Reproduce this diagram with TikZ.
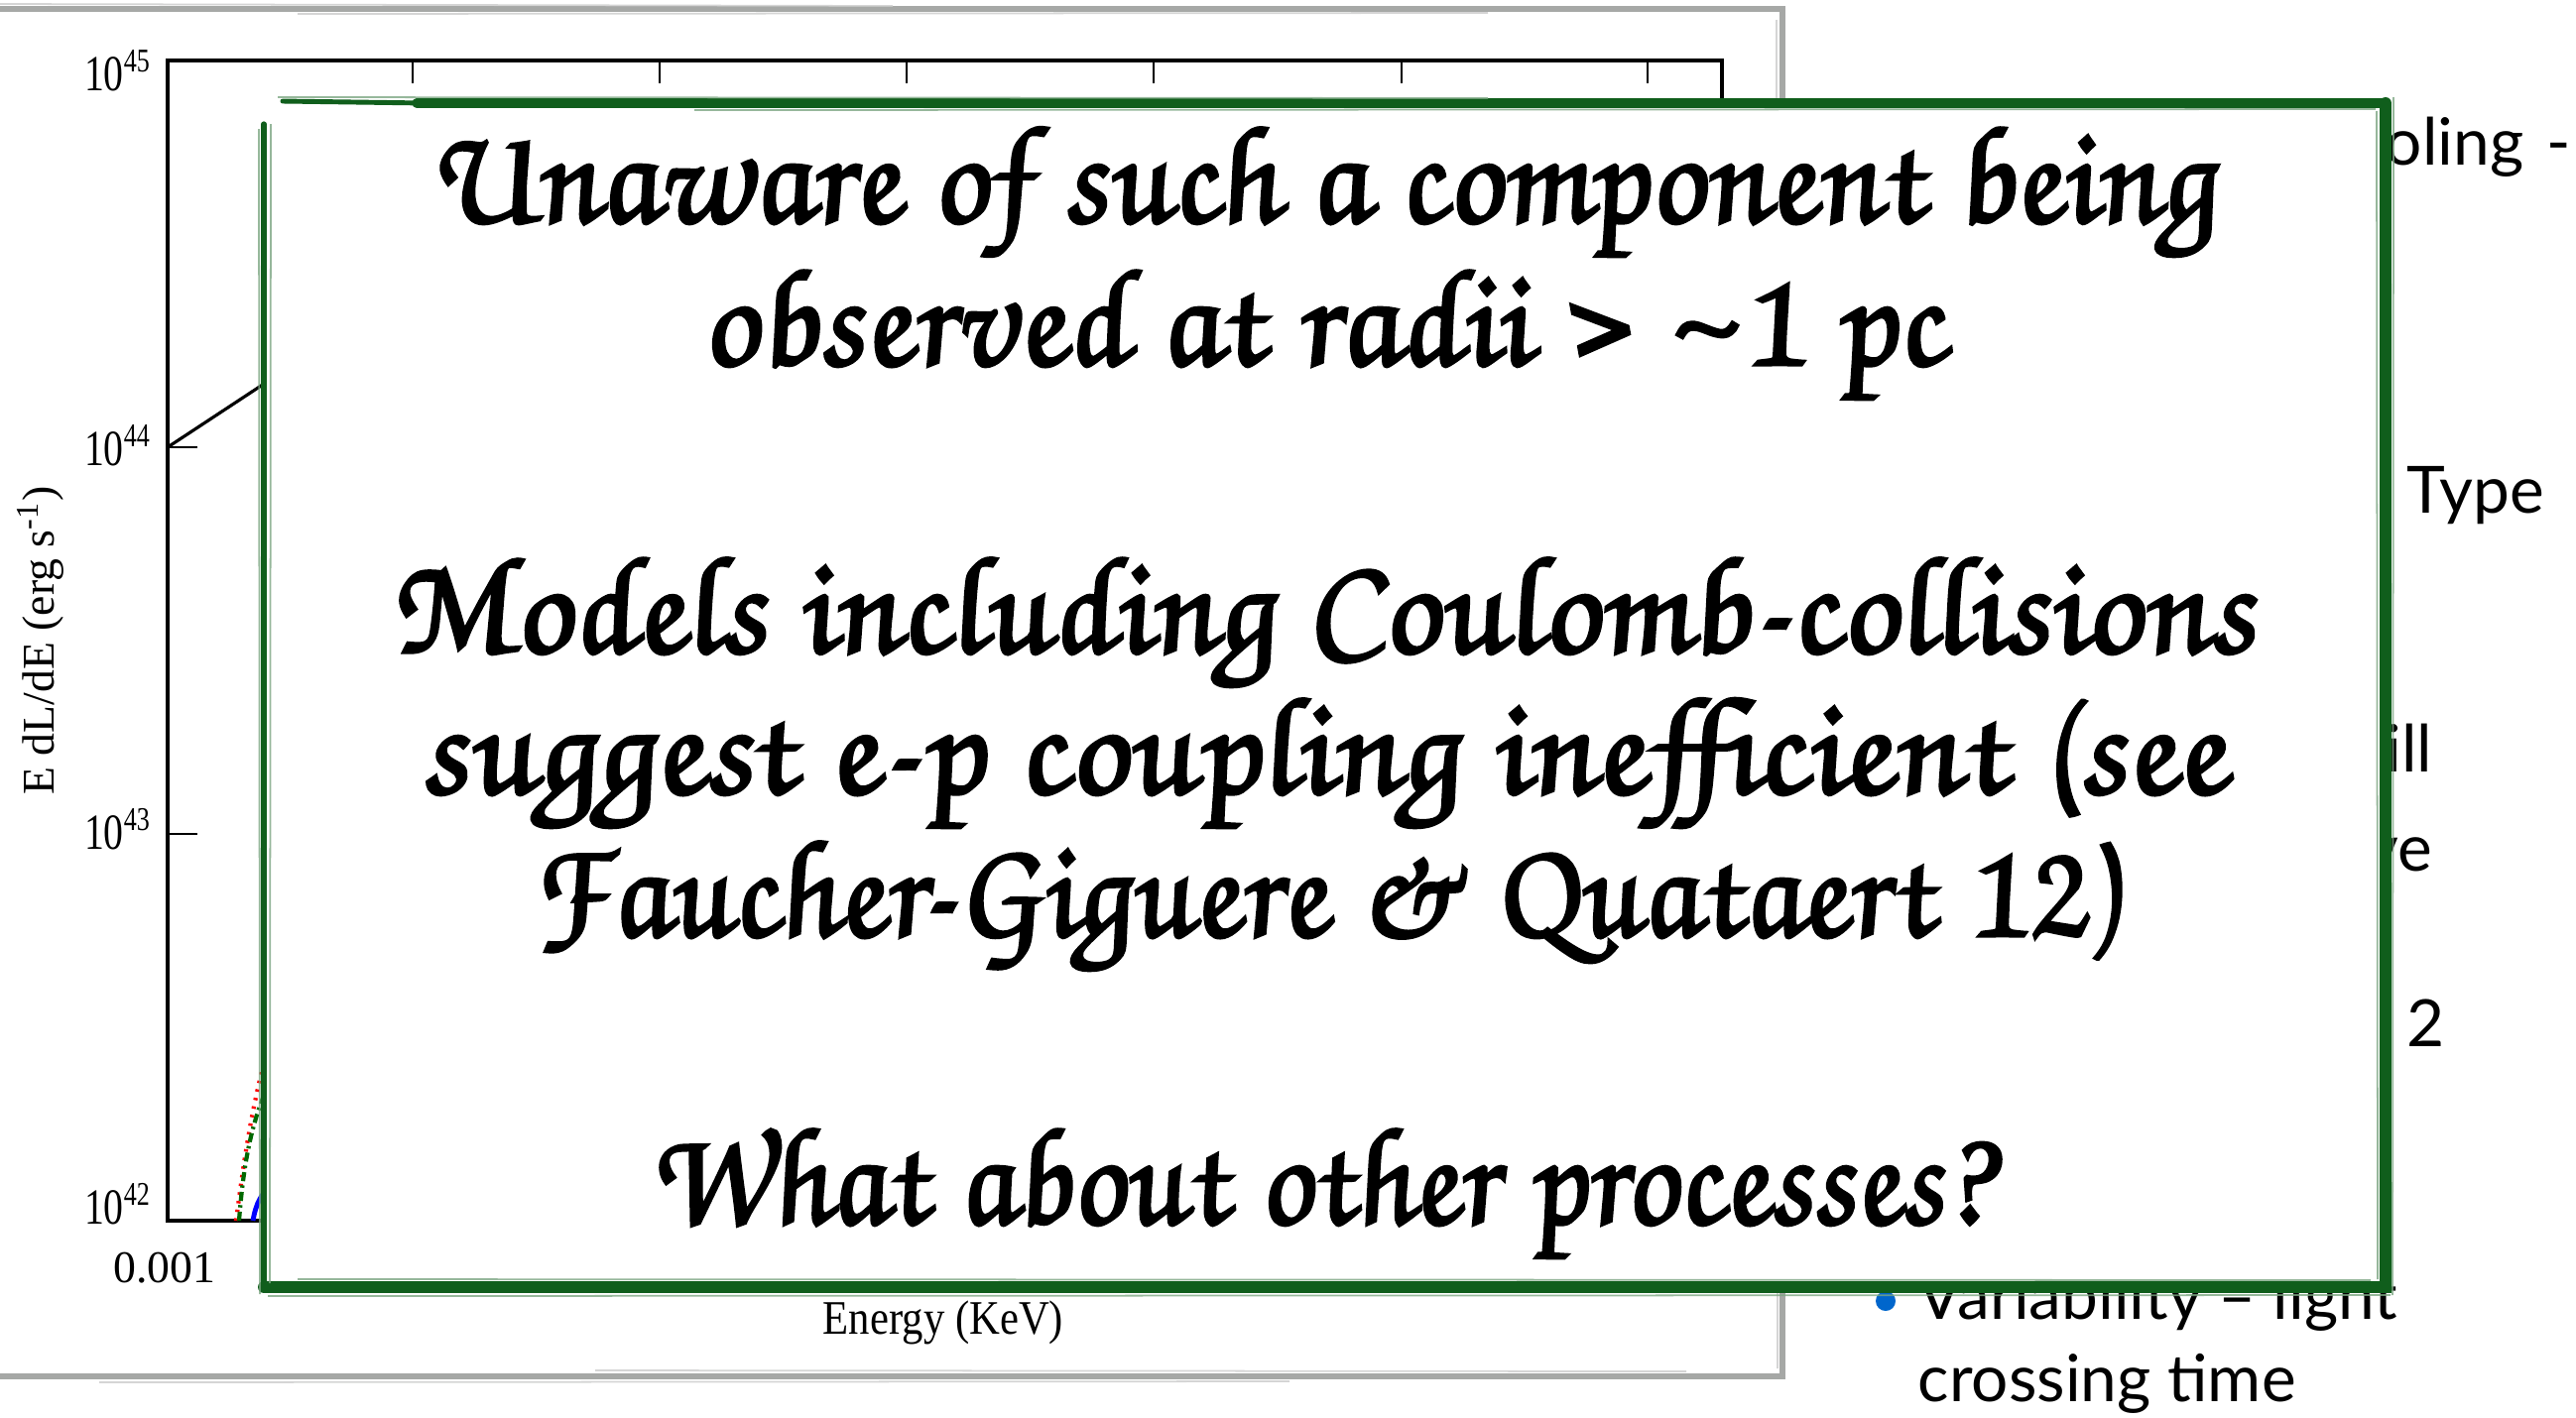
\documentclass[tikz,border=0pt]{standalone}
\usepackage{fontspec}
\setmainfont{Liberation Serif}
\newfontfamily\handfont[FakeBold=2.2,FakeSlant=-0.18]{TeX Gyre Chorus}
\newfontfamily\slidefont{Lato}

\definecolor{boxgreen}{RGB}{16,94,28}
\definecolor{framegrey}{RGB}{166,168,166}
\definecolor{bulletblue}{RGB}{0,102,204}
\definecolor{curvegreen}{RGB}{0,105,0}

\begin{document}
\begin{tikzpicture}[x=0.01cm,y=-0.01cm,
  axisline/.style={line width=1.15pt, black},
  tickline/.style={line width=0.8pt, black},
  plottext/.style={inner sep=0pt, font=\fontsize{13}{15}\selectfont},
  slidetext/.style={inner sep=0pt, font=\slidefont\fontsize{18.7}{22}\selectfont},
  handtext/.style={inner sep=0pt, anchor=base, font=\handfont\fontsize{40}{48}\selectfont},
  greyedge/.style={draw=framegrey, line width=1.8pt, line cap=round},
  greystreak/.style={draw=framegrey!60!white, line width=0.5pt, opacity=0.8},
  greenedge/.style={draw=boxgreen, line cap=round},
  greenstreak/.style={draw=boxgreen!55!white, line width=0.5pt, opacity=0.8}]
\useasboundingbox (0,0) rectangle (2597,1429);

% frame of the underlying figure
\coordinate (gtl) at (-20,9);
\coordinate (gtr) at (1797,9);
\coordinate (gbr) at (1797,1388);
\coordinate (gbl) at (-20,1388);
\draw[greyedge] (gtl) -- (gtr) -- (gbr) -- (gbl);
\draw[greystreak] (0,4) -- (900,6) (300,14) -- (1500,13) (1791,20) -- (1792,1380)
  (100,1394) -- (1300,1393) (600,1382) -- (1700,1383);

% spectrum axes
\coordinate (ptl) at (169,61);
\coordinate (ptr) at (1736,61);
\coordinate (pbl) at (169,1231);
\coordinate (pbr) at (1736,1231);
\draw[axisline] (pbr) -- (pbl) -- (ptl) -- (ptr) -- (pbr);
\foreach \tx in {416,665,914,1163,1413,1661}
  \draw[tickline] (\tx,61) -- (\tx,84);
\draw[tickline] (169,451) -- (199,451);
\draw[tickline] (169,841) -- (199,841);
\draw[tickline] (169,1231) -- (199,1231);

% spectral components
\coordinate (c0) at (169,451);
\coordinate (c1) at (330,345);
\draw[line width=0.9pt] (c0) -- (c1);
\draw[red, line width=1.2pt, dash pattern=on 0.7pt off 1.8pt]
  (238,1231) .. controls (246,1170) and (254,1110) .. (275,1040);
\draw[curvegreen, line width=1.2pt, dash pattern=on 2.6pt off 1.2pt on 0.7pt off 1.2pt]
  (241,1231) .. controls (245,1180) and (252,1130) .. (275,1085);
\draw[blue, line width=1.4pt]
  (255,1231) .. controls (258,1214) and (263,1202) .. (280,1190);

% axis labels
\newcommand\decade[1]{\scalebox{0.78}[1]{\fontsize{14.5}{16}\selectfont 10\textsuperscript{\fontsize{9.5}{10}\selectfont #1}}}
\node[plottext, anchor=base east] (y45) at (153,91) {\decade{45}};
\node[plottext, anchor=base east] (y44) at (153,469) {\decade{44}};
\node[plottext, anchor=base east] (y43) at (153,856) {\decade{43}};
\node[plottext, anchor=base east] (y42) at (153,1234) {\decade{42}};
\node[plottext, anchor=base] (x0) at (166,1293) {0.001};
\node[plottext, anchor=base] (xlab) at (951,1345) {\scalebox{0.88}[1]{\fontsize{13.8}{15}\selectfont Energy (KeV)}};
\node[plottext, rotate=90] (ylab) at (41,646) {E dL/dE (erg s\textsuperscript{-1})};

% slide text beside the figure
\node[slidetext, anchor=base west] (cool) at (2336,166) {cooling\hspace{0.35em}-};
\node[slidetext, anchor=base west] (type) at (2426,517) {Type};
\node[slidetext, anchor=base east] (will) at (2453,778) {will};
\node[slidetext, anchor=base east] (have) at (2453,878) {have};
\node[slidetext, anchor=base west] (two) at (2426,1055) {2};
\node[circle, fill=bulletblue, inner sep=0pt, minimum size=0.2cm] (dot) at (1901,1312) {};
\node[slidetext, anchor=base west] (var) at (1933,1330) {Variability – light};
\node[slidetext, anchor=base west] (cross) at (1933,1413) {crossing time};

% note card
\coordinate (ntl) at (266,104);
\coordinate (ntr) at (2405,104);
\coordinate (nbr) at (2405,1298);
\coordinate (nbl) at (266,1298);
\fill[white] (ntl) rectangle (nbr);
\draw[greenedge, line width=1.5pt] (nbl) -- (266,125);
\draw[greenedge, line width=2.6pt] (420,104) -- (ntr);
\draw[greenedge, line width=1.4pt] (285,102) -- (430,104);
\draw[greenedge, line width=3.4pt] (ntr) -- (nbr) -- (nbl);
\draw[greenstreak] (261,130) -- (262,1305) (273,125) -- (272,1294)
  (280,98) -- (1500,99) (700,111) -- (2395,110)
  (2396,112) -- (2397,1290) (2413,98) -- (2412,1306)
  (300,1290) -- (2390,1291) (270,1307) -- (2410,1306);

\node[handtext] (l1) at (1337,224) {Unaware of such a component being};
\node[handtext] (l2) at (1337,368) {\scalebox{1.02}[1]{observed at radii > \textasciitilde 1 pc}};
\node[handtext] (l3) at (1337,658) {\scalebox{1.04}[1]{Models including Coulomb-collisions}};
\node[handtext] (l4) at (1337,800) {\scalebox{1.06}[1]{suggest e-p coupling inefficient (see}};
\node[handtext] (l5) at (1337,944) {\scalebox{0.985}[1]{Faucher-Giguere \& Quataert 12)}};
\node[handtext] (l6) at (1337,1234) {\scalebox{0.96}[1]{What about other processes?}};
\end{tikzpicture}
\end{document}
